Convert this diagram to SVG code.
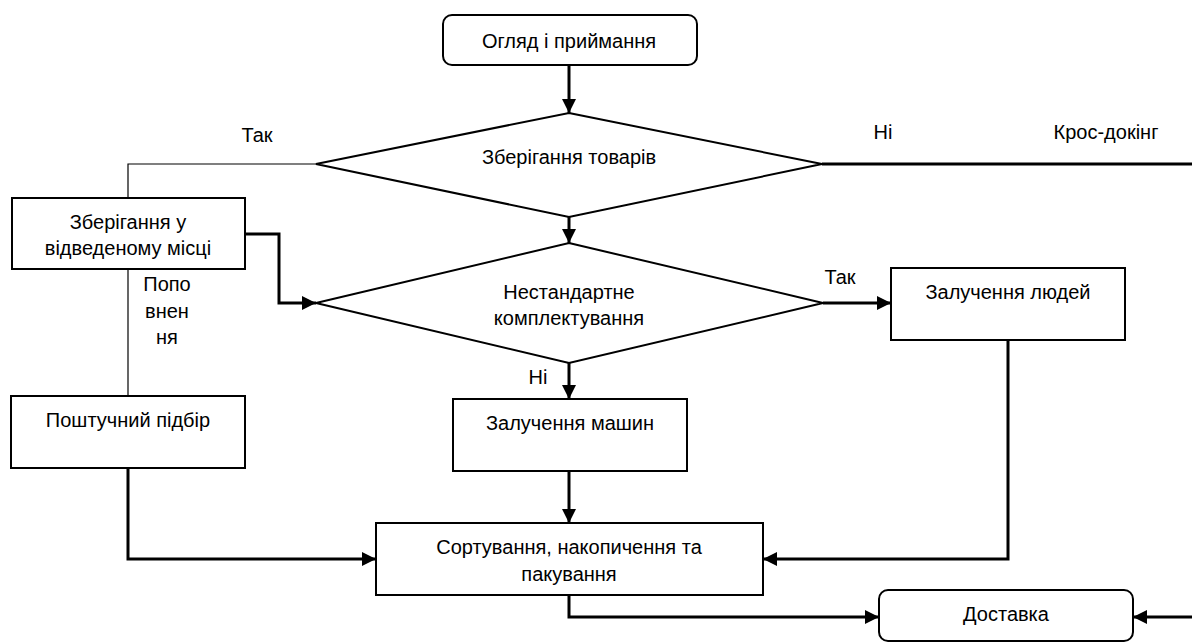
<svg xmlns="http://www.w3.org/2000/svg" width="1192" height="642" viewBox="0 0 1192 642">
<style>
text{font-family:"Liberation Sans",Arial,sans-serif;font-size:20px;fill:#000;text-anchor:middle;dominant-baseline:central}
.box{fill:#fff;stroke:#000;stroke-width:2}
.dia{fill:#fff;stroke:#000;stroke-width:2}
.thick{fill:none;stroke:#000;stroke-width:3}
.thin{fill:none;stroke:#000;stroke-width:1.2}
.arr{marker-end:url(#ah)}
</style>
<defs>
<marker id="ah" markerUnits="userSpaceOnUse" markerWidth="14" markerHeight="14" refX="14" refY="7" orient="auto">
<path d="M0,0 L14,7 L0,14 z" fill="#000"/>
</marker>
</defs>
<rect width="1192" height="642" fill="#fff"/>
<g id="connectors">
<path class="thick arr" d="M569,65 V113"/>
<path class="thick" d="M822,164 H1192"/>
<path class="thin" d="M316,164 H128 V198"/>
<path class="thick arr" d="M569,217 V243"/>
<path class="thick arr" d="M245,234 H279 V303 H316"/>
<path class="thin" d="M128,269 V396"/>
<path class="thick arr" d="M823,303 H891"/>
<path class="thick arr" d="M569,363 V399"/>
<path class="thick arr" d="M569,471 V523"/>
<path class="thick arr" d="M128,468 V559 H376"/>
<path class="thick arr" d="M1008,340 V559 H763"/>
<path class="thick arr" d="M569,595 V617 H879"/>
<path class="thick arr" d="M1192,617 H1133"/>
</g>
<g id="start">
<rect class="box" x="443" y="15" width="254" height="50" rx="9"/>
<text x="569" y="41">Огляд і приймання</text>
</g>
<g id="decision-storage">
<polygon class="dia" points="569,113 822,164 569,217 316,164"/>
<text x="569" y="157">Зберігання товарів</text>
</g>
<g id="labels-top">
<text x="257" y="135">Так</text>
<text x="883" y="132">Ні</text>
<text x="1106" y="132">Крос-докінг</text>
</g>
<g id="store-place">
<rect class="box" x="12" y="198" width="233" height="71"/>
<text x="128" y="222">Зберігання у</text>
<text x="128" y="248">відведеному місці</text>
</g>
<g id="label-replenish">
<text x="167" y="284">Попо</text>
<text x="167" y="311">внен</text>
<text x="167" y="337">ня</text>
</g>
<g id="decision-picking">
<polygon class="dia" points="569,243 823,303 569,363 316,303"/>
<text x="569" y="292">Нестандартне</text>
<text x="569" y="318">комплектування</text>
</g>
<g id="label-yes2"><text x="840" y="277">Так</text></g>
<g id="label-no2"><text x="538" y="377">Ні</text></g>
<g id="people">
<rect class="box" x="891" y="268" width="234" height="72"/>
<text x="1008" y="292">Залучення людей</text>
</g>
<g id="machines">
<rect class="box" x="453" y="399" width="234" height="72"/>
<text x="570" y="423">Залучення машин</text>
</g>
<g id="piece-pick">
<rect class="box" x="11" y="396" width="234" height="72"/>
<text x="128" y="420">Поштучний підбір</text>
</g>
<g id="sorting">
<rect class="box" x="376" y="523" width="387" height="72"/>
<text x="569" y="547">Сортування, накопичення та</text>
<text x="569" y="574">пакування</text>
</g>
<g id="delivery">
<rect class="box" x="879" y="590" width="254" height="51" rx="9"/>
<text x="1006" y="614">Доставка</text>
</g>
</svg>
